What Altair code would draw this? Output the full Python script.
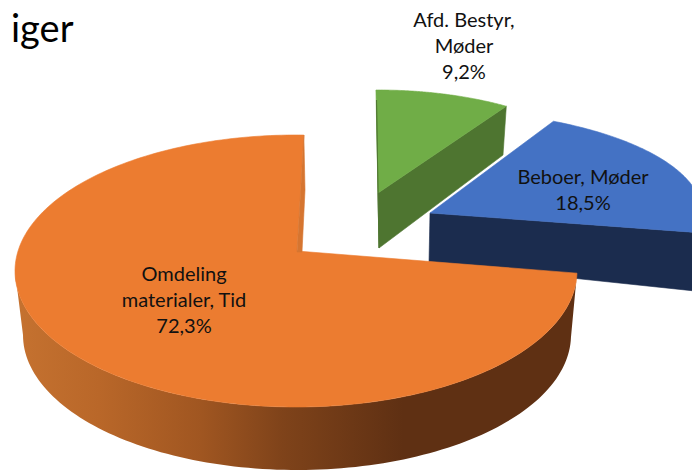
import numpy as np
import pandas as pd
import altair as alt

categories = ["Omdeling\nmaterialer, Tid", "Beboer, Møder", "Afd. Bestyr,\nMøder"]
shares = [72.3, 18.5, 9.2]
title_fragment = "iger"

FONT = "Lato"
W, H = 684, 463
xs = alt.Scale(domain=[8, 692], range=[0, W], nice=False, zero=False)
ys = alt.Scale(domain=[471, 8], range=[H, 0], nice=False, zero=False)


def arc(cx, cy, rx, ry, a0, a1, n=90):
    t = np.radians(np.linspace(a0, a1, n))
    return list(zip(cx + rx * np.sin(t), cy - ry * np.cos(t)))


def poly(points, fill, stroke=None, width=0.6):
    df = pd.DataFrame(points, columns=["x", "y"]).reset_index()
    closed = pd.concat([df, df.iloc[[0]].assign(index=len(df))])
    s = stroke if stroke is not None else (fill if isinstance(fill, str) else "#5f3013")
    return alt.Chart(closed).mark_line(
        fill=fill, stroke=s, strokeWidth=width, interpolate="linear", clip=True
    ).encode(
        x=alt.X("x:Q", scale=xs, axis=None),
        y=alt.Y("y:Q", scale=ys, axis=None),
        order="index:Q",
    )


# sweep of each slice on its ellipse, from its share, stretched by the 3D perspective
s_orange, s_blue, s_green = [v * 3.6 for v in shares]

# --- blue slice
b0 = 27.0
b1 = b0 + s_blue * 1.11
blue_arc = arc(430, 213, 272, 103, b0, b1)
blue_wall = poly([(430, 213), blue_arc[-1], (695, 291), (429, 263)], "#1b2c4e")
blue_top = poly([(430, 213)] + blue_arc, "#4472c4")

# --- green slice
g0 = -0.5
g1 = g0 + s_green * 1.0
green_arc = arc(378, 193, 238, 103, g0, g1)
green_wall = poly([green_arc[-1], (503, 155), (379, 248), (378, 193)], "#4e7530")
green_top = poly([(378, 193)] + green_arc, "#70ad47")
green_edge = poly([(376.5, 100), (379, 248), (378, 193)], "#4e7530", width=0.8)

# --- orange slice: runs counter-clockwise from near the top round to the right
o_start = 1.6
o_end = o_start - s_orange * 1.04
orange_arc = arc(296, 271, 281, 136, o_start, o_end, n=240)
left = -90.0
wall_bottom = arc(297, 335, 274, 135, left, o_end, n=120)
wall_top = arc(296, 271, 281, 136, o_end, left, n=120)
gradient = alt.LinearGradient(
    gradient="linear", x1=0, x2=1, y1=0, y2=0,
    stops=[
        alt.GradientStop(offset=0.0, color="#c57230"),
        alt.GradientStop(offset=0.15, color="#b96729"),
        alt.GradientStop(offset=0.33, color="#a05621"),
        alt.GradientStop(offset=0.475, color="#7f431a"),
        alt.GradientStop(offset=0.69, color="#5f3013"),
        alt.GradientStop(offset=1.0, color="#5f3013"),
    ],
)
orange_wall = poly(wall_bottom + wall_top, gradient, stroke="#00000000", width=0)
orange_top = poly([(297, 251)] + orange_arc, "#ec7c30")
orange_cut = poly([orange_arc[0], (305, 190), (302, 252), (297, 252)], "#d67530")

# --- labels
label_at = {0: (184, 275), 1: (583, 178), 2: (464, 21)}
LINE = 26
rows = []
for i, (c, v) in enumerate(zip(categories, shares)):
    lines = c.split("\n") + [f"{v:.1f}%".replace(".", ",")]
    x0, y0 = label_at[i]
    for j, t in enumerate(lines):
        rows.append({"x": x0, "y": y0 + j * LINE, "t": t})
labels = alt.Chart(pd.DataFrame(rows)).mark_text(
    font=FONT, fontSize=20, color="#111111", baseline="middle", align="center"
).encode(
    x=alt.X("x:Q", scale=xs, axis=None),
    y=alt.Y("y:Q", scale=ys, axis=None),
    text="t:N",
)

title = alt.Chart(pd.DataFrame({"x": [11], "y": [42], "t": [title_fragment]})).mark_text(
    font=FONT, fontSize=38, color="#000000", baseline="alphabetic", align="left"
).encode(
    x=alt.X("x:Q", scale=xs, axis=None),
    y=alt.Y("y:Q", scale=ys, axis=None),
    text="t:N",
)

chart = alt.layer(
    blue_wall, blue_top, green_wall, green_top, green_edge,
    orange_wall, orange_top, orange_cut, labels, title,
).properties(
    width=W, height=H, padding=0, background="white",
    autosize=alt.AutoSizeParams(type="none", contains="padding"),
).configure_view(stroke="transparent", strokeWidth=0)

chart.save("out.html", embed_options={"renderer": "svg", "actions": False})
